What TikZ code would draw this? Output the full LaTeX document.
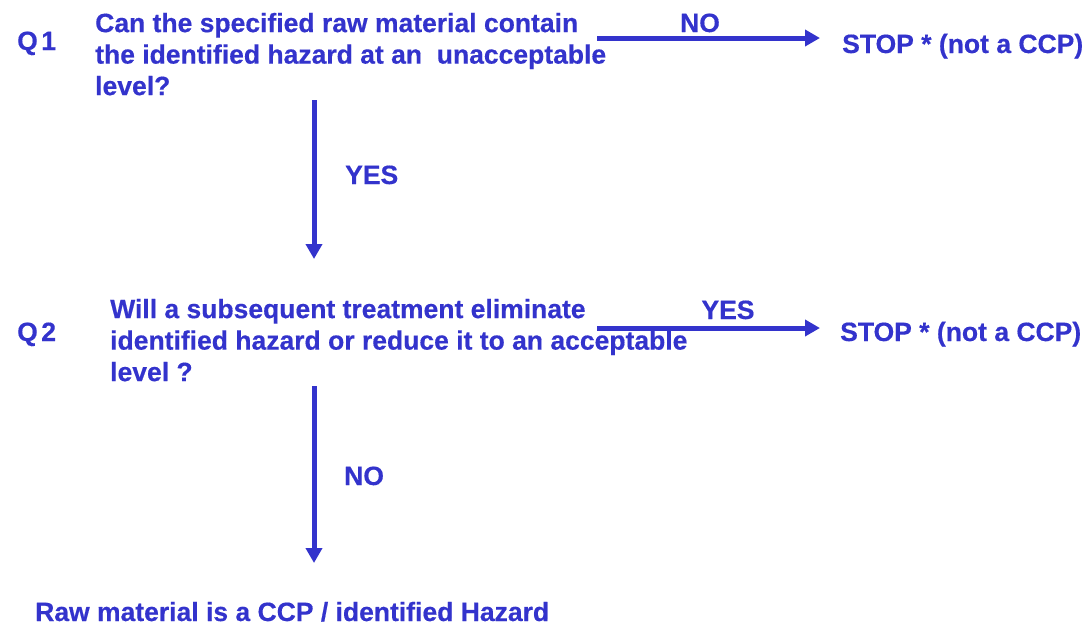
\documentclass[tikz,border=0pt]{standalone}
\usepackage{fontspec}
\setmainfont{Liberation Sans}[BoldFeatures={FakeBold=0.4}]
\usetikzlibrary{arrows.meta}
\definecolor{ink}{HTML}{3333CC}
\begin{document}
\begin{tikzpicture}[x=1pt,y=-1pt,
  txt/.style={inner sep=0pt,text=ink,font=\fontsize{26.5}{31.5}\selectfont\bfseries,align=left},
  flow/.style={draw=ink,line width=5pt,-{Triangle[length=15pt,width=16pt]}}]
\useasboundingbox (0,0) rectangle (1087,625);
% question 1
\node[txt,anchor=base west] (q1n) at (17,50) {Q\hspace{3.5pt}1};
\node[txt,anchor=north west] (q1) at (95,12.7) {Can the specified raw material contain\\the identified hazard at an\ \ unacceptable\\level?};
\node[txt,anchor=base west] (stop1) at (842,53) {STOP * (not a CCP)};
\coordinate (h1) at (597,38);
\coordinate (h1e) at (820,38);
\draw[flow] (h1) -- (h1e);
\node[txt,anchor=base] (no1) at (700,32) {NO};
\coordinate (v1) at (314,100);
\coordinate (v1e) at (314,259);
\draw[flow] (v1) -- (v1e);
\node[txt,anchor=base west] (yes1) at (345,184) {YES};
% question 2
\node[txt,anchor=base west] (q2n) at (17,341) {Q\hspace{3.5pt}2};
\node[txt,anchor=north west] (q2) at (110,298.7) {Will a subsequent treatment eliminate\\identified hazard or reduce it to an acceptable\\level ?};
\node[txt,anchor=base west] (stop2) at (840,341) {STOP * (not a CCP)};
\coordinate (h2) at (597,328);
\coordinate (h2e) at (820,328);
\draw[flow] (h2) -- (h2e);
\node[txt,anchor=base] (yes2) at (728,319) {YES};
\coordinate (v2) at (314,386);
\coordinate (v2e) at (314,563);
\draw[flow] (v2) -- (v2e);
\node[txt,anchor=base west] (no2) at (344,485) {NO};
% outcome
\node[txt,anchor=base west] (res) at (35,621) {Raw material is a CCP / identified Hazard};
\end{tikzpicture}
\end{document}
